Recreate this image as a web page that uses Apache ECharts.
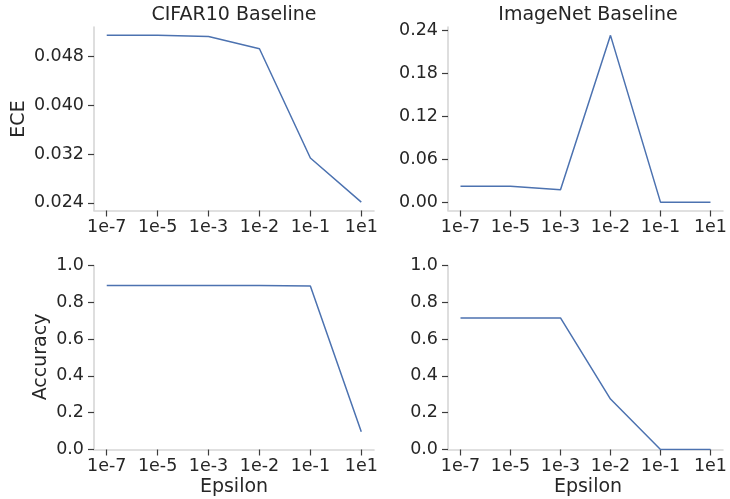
<!DOCTYPE html>
<html>
<head>
<meta charset="utf-8">
<script src="https://cdn.jsdelivr.net/npm/echarts@6/dist/echarts.min.js"></script>
<style>
html,body{margin:0;padding:0;background:#fff;}
#chart{width:730px;height:499px;}
</style>
</head>
<body>
<div id="chart"></div>
<script>
// ---- data ----
const epsilons = ['1e-7', '1e-5', '1e-3', '1e-2', '1e-1', '1e1'];
const titles = ['CIFAR10 Baseline', 'ImageNet Baseline'];
const cifarEce = [0.0515, 0.0515, 0.0513, 0.0493, 0.03135, 0.0241];
const imagenetEce = [0.0223, 0.0223, 0.0172, 0.233, 0.0, 0.0];
const cifarAcc = [0.891, 0.891, 0.891, 0.891, 0.888, 0.096];
const imagenetAcc = [0.715, 0.715, 0.715, 0.274, 0.0, 0.0];
const cifarEceTicks = [0.024, 0.032, 0.040, 0.048];
const imagenetEceTicks = [0.00, 0.06, 0.12, 0.18, 0.24];
const accTicks = [0.0, 0.2, 0.4, 0.6, 0.8, 1.0];

// ---- chart ----
const FONT = 'DejaVu Sans';
const TXT = '#262626';
const SPINE = '#d6d6d6';
const TICK = '#3c3c3c';
const LINE = '#4c72b0';
const TICKFS = 17.5;
const LABFS = 19;

const grids = [
  {left: 94, top: 27, width: 280, height: 183.5},
  {left: 448, top: 27, width: 280.5, height: 183.5},
  {left: 94, top: 265.5, width: 280, height: 184},
  {left: 448, top: 265.5, width: 280.5, height: 184}
];

const xIdx = epsilons.map((_, i) => i);

function xAxis(g) {
  return {
    type: 'value', gridIndex: g, min: -0.25, max: epsilons.length - 0.75,
    splitLine: {show: false},
    axisLine: {show: true, onZero: false, lineStyle: {color: SPINE, width: 1.6}},
    axisTick: {show: true, inside: false, length: 6, customValues: xIdx, lineStyle: {color: TICK, width: 1.2}},
    axisLabel: {customValues: xIdx, margin: 8, fontFamily: FONT, fontSize: TICKFS, color: TXT,
      formatter: v => epsilons[Math.round(v)]}
  };
}
function yAxis(g, min, max, ticks, digits) {
  return {
    type: 'value', gridIndex: g, min: min, max: max,
    splitLine: {show: false},
    axisLine: {show: true, onZero: false, lineStyle: {color: SPINE, width: 1.6}},
    axisTick: {show: true, inside: false, length: 6, customValues: ticks, lineStyle: {color: TICK, width: 1.2}},
    axisLabel: {customValues: ticks, margin: 10, fontFamily: FONT, fontSize: TICKFS, color: TXT,
      formatter: v => v.toFixed(digits)}
  };
}
function pad(arr) {
  const mn = Math.min(...arr), mx = Math.max(...arr);
  const m = (mx - mn) * 0.05;
  return [mn - m, mx + m];
}
const r0 = pad(cifarEce), r1 = pad(imagenetEce);

function series(g, vals) {
  return {
    type: 'line', xAxisIndex: g, yAxisIndex: g,
    data: vals.map((v, i) => [xIdx[i], v]),
    showSymbol: false, symbol: 'none', z: 5,
    lineStyle: {color: LINE, width: 1.5},
    animation: false
  };
}

const textStyle = (size) => ({fontFamily: FONT, fontSize: size, fill: TXT, textAlign: 'center', textVerticalAlign: 'middle'});

const option = {
  animation: false,
  backgroundColor: '#ffffff',
  grid: grids,
  xAxis: [xAxis(0), xAxis(1), xAxis(2), xAxis(3)],
  yAxis: [
    yAxis(0, r0[0], r0[1], cifarEceTicks, 3),
    yAxis(1, r1[0], r1[1], imagenetEceTicks, 2),
    yAxis(2, 0, 1, accTicks, 1),
    yAxis(3, 0, 1, accTicks, 1)
  ],
  series: [
    series(0, cifarEce),
    series(1, imagenetEce),
    series(2, cifarAcc),
    series(3, imagenetAcc)
  ],
  graphic: [
    {type: 'text', x: 234, y: 15, style: Object.assign({text: titles[0]}, textStyle(LABFS))},
    {type: 'text', x: 588, y: 15, style: Object.assign({text: titles[1]}, textStyle(LABFS))},
    {type: 'text', x: 19, y: 119, rotation: Math.PI / 2, style: Object.assign({text: 'ECE'}, textStyle(LABFS))},
    {type: 'text', x: 41, y: 357, rotation: Math.PI / 2, style: Object.assign({text: 'Accuracy'}, textStyle(LABFS))},
    {type: 'text', x: 234, y: 487, style: Object.assign({text: 'Epsilon'}, textStyle(LABFS))},
    {type: 'text', x: 588, y: 487, style: Object.assign({text: 'Epsilon'}, textStyle(LABFS))}
  ]
};

const chart = echarts.init(document.getElementById('chart'), null, {renderer: 'canvas'});
chart.setOption(option);
</script>
</body>
</html>
